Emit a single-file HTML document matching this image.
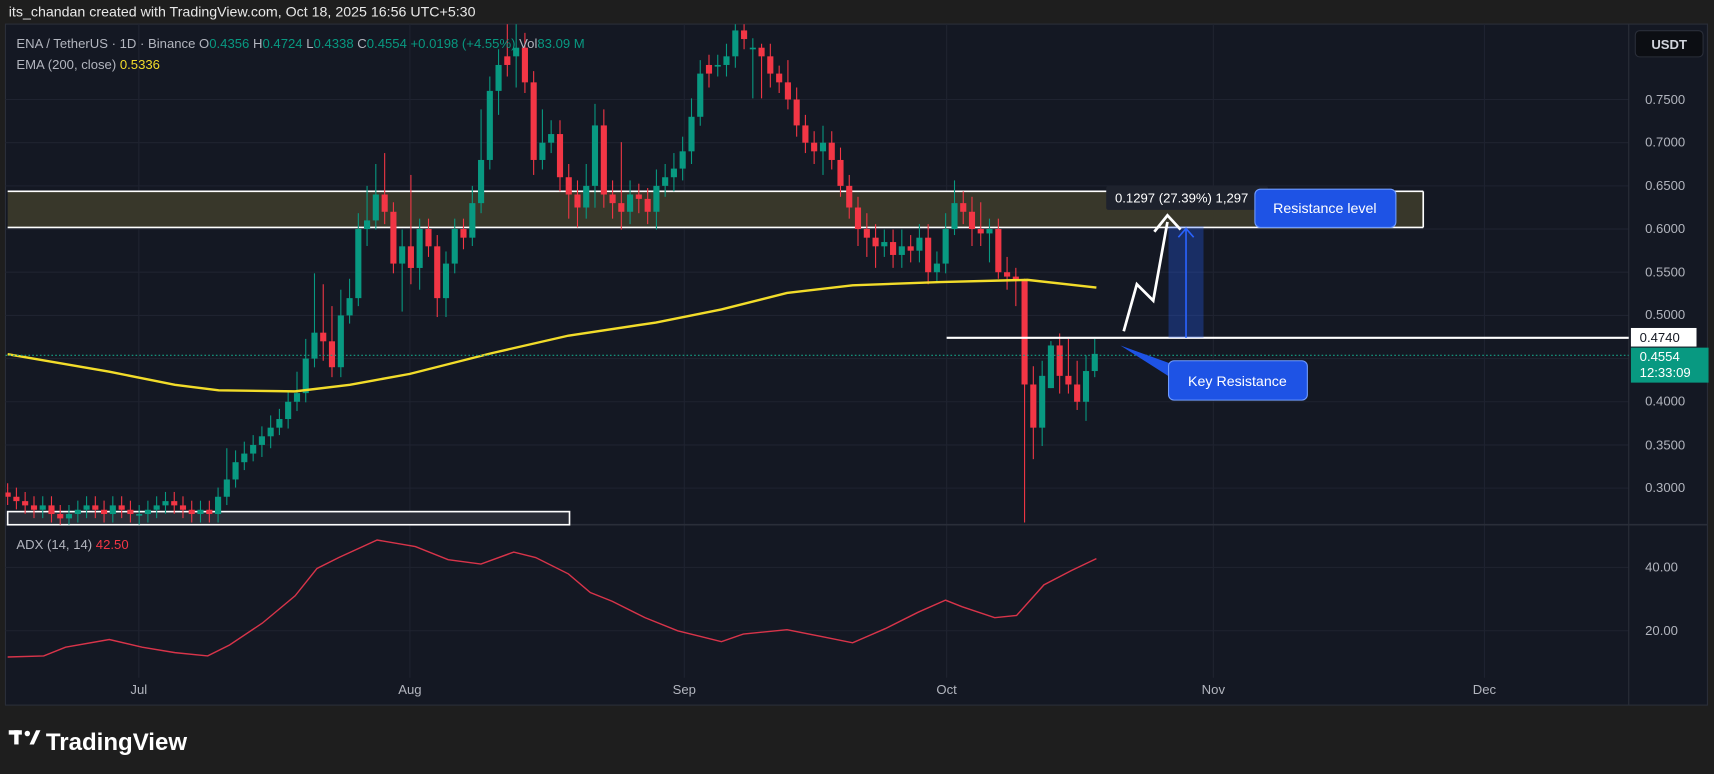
<!DOCTYPE html>
<html><head><meta charset="utf-8"><style>
html,body{margin:0;padding:0;background:#1e1e1e;width:1714px;height:774px;overflow:hidden}
svg{display:block}
text{font-family:"Liberation Sans",sans-serif}
.G line{stroke:#089981;stroke-width:1}.G rect{fill:#089981}
.R line{stroke:#f23645;stroke-width:1}.R rect{fill:#f23645}
</style></head><body>
<svg width="1714" height="774" viewBox="0 0 1568 708" xmlns="http://www.w3.org/2000/svg">
<defs><clipPath id="cp"><rect x="5" y="22" width="1485" height="458"/></clipPath></defs>
<rect width="1568" height="708" fill="#1e1e1e"/>
<text x="8" y="15" fill="#e8e8e8" font-size="13">its_chandan created with TradingView.com, Oct 18, 2025 16:56 UTC+5:30</text>
<rect x="5" y="22" width="1557" height="623" fill="#141823" stroke="#2a2e39"/>
<g stroke="#1f2330" stroke-width="1">
<line x1="5" y1="91" x2="1490" y2="91"/><line x1="5" y1="130.5" x2="1490" y2="130.5"/><line x1="5" y1="170" x2="1490" y2="170"/><line x1="5" y1="209.5" x2="1490" y2="209.5"/><line x1="5" y1="249" x2="1490" y2="249"/><line x1="5" y1="288.5" x2="1490" y2="288.5"/><line x1="5" y1="328" x2="1490" y2="328"/><line x1="5" y1="367.5" x2="1490" y2="367.5"/><line x1="5" y1="407" x2="1490" y2="407"/><line x1="5" y1="446.5" x2="1490" y2="446.5"/>
<line x1="5" y1="519" x2="1490" y2="519"/><line x1="5" y1="577" x2="1490" y2="577"/>
<line x1="127" y1="22" x2="127" y2="620"/><line x1="375" y1="22" x2="375" y2="620"/><line x1="626" y1="22" x2="626" y2="620"/><line x1="866" y1="22" x2="866" y2="620"/><line x1="1110" y1="22" x2="1110" y2="620"/><line x1="1358" y1="22" x2="1358" y2="620"/>
</g>
<line x1="5" y1="480" x2="1562" y2="480" stroke="#2a2e39" stroke-width="1.5"/>
<line x1="1490" y1="22" x2="1490" y2="645" stroke="#2a2e39"/>
<rect x="7" y="175" width="1295" height="33" fill="#38372a"/>
<line x1="7" y1="175" x2="1302" y2="175" stroke="#fff" stroke-width="1.5"/>
<line x1="7" y1="208" x2="1302" y2="208" stroke="#fff" stroke-width="1.5"/>
<line x1="1302" y1="175" x2="1302" y2="208" stroke="#fff" stroke-width="1.5"/>
<rect x="7" y="468" width="514" height="12" fill="#2a2d37" stroke="#fff" stroke-width="1.5"/>
<g clip-path="url(#cp)">
<g class="R"><line x1="7" y1="442" x2="7" y2="462"/><rect x="4.2" y="450.5" width="5.6" height="3.9"/></g>
<g class="R"><line x1="15" y1="446" x2="15" y2="466"/><rect x="12.2" y="454.4" width="5.6" height="4"/></g>
<g class="R"><line x1="23" y1="450" x2="23" y2="470"/><rect x="20.2" y="458.4" width="5.6" height="3.9"/></g>
<g class="R"><line x1="31.1" y1="454" x2="31.1" y2="474"/><rect x="28.3" y="462.3" width="5.6" height="4"/></g>
<g class="G"><line x1="39.1" y1="454" x2="39.1" y2="474"/><rect x="36.3" y="462.3" width="5.6" height="4"/></g>
<g class="R"><line x1="47.1" y1="454" x2="47.1" y2="478"/><rect x="44.3" y="462.3" width="5.6" height="7.9"/></g>
<g class="R"><line x1="55.1" y1="462" x2="55.1" y2="480"/><rect x="52.3" y="470.2" width="5.6" height="4"/></g>
<g class="G"><line x1="63.1" y1="462" x2="63.1" y2="480"/><rect x="60.3" y="470.2" width="5.6" height="4"/></g>
<g class="G"><line x1="71.2" y1="458" x2="71.2" y2="478"/><rect x="68.4" y="466.3" width="5.6" height="3.9"/></g>
<g class="G"><line x1="79.2" y1="454" x2="79.2" y2="474"/><rect x="76.4" y="462.3" width="5.6" height="4"/></g>
<g class="R"><line x1="87.2" y1="454" x2="87.2" y2="474"/><rect x="84.4" y="462.3" width="5.6" height="4"/></g>
<g class="R"><line x1="95.2" y1="458" x2="95.2" y2="478"/><rect x="92.4" y="466.3" width="5.6" height="3.9"/></g>
<g class="G"><line x1="103.2" y1="454" x2="103.2" y2="478"/><rect x="100.4" y="462.3" width="5.6" height="7.9"/></g>
<g class="R"><line x1="111.3" y1="454" x2="111.3" y2="474"/><rect x="108.5" y="462.3" width="5.6" height="4"/></g>
<g class="R"><line x1="119.3" y1="458" x2="119.3" y2="478"/><rect x="116.5" y="466.3" width="5.6" height="3.9"/></g>
<g class="G"><line x1="127.3" y1="462" x2="127.3" y2="480"/><rect x="124.5" y="470.2" width="5.6" height="1.5"/></g>
<g class="G"><line x1="135.3" y1="458" x2="135.3" y2="478"/><rect x="132.5" y="466.3" width="5.6" height="3.9"/></g>
<g class="G"><line x1="143.3" y1="454" x2="143.3" y2="474"/><rect x="140.5" y="462.3" width="5.6" height="4"/></g>
<g class="G"><line x1="151.4" y1="450" x2="151.4" y2="470"/><rect x="148.6" y="458.4" width="5.6" height="3.9"/></g>
<g class="R"><line x1="159.4" y1="450" x2="159.4" y2="470"/><rect x="156.6" y="458.4" width="5.6" height="3.9"/></g>
<g class="R"><line x1="167.4" y1="454" x2="167.4" y2="474"/><rect x="164.6" y="462.3" width="5.6" height="4"/></g>
<g class="R"><line x1="175.4" y1="458" x2="175.4" y2="478"/><rect x="172.6" y="466.3" width="5.6" height="3.9"/></g>
<g class="G"><line x1="183.4" y1="458" x2="183.4" y2="478"/><rect x="180.6" y="466.3" width="5.6" height="3.9"/></g>
<g class="R"><line x1="191.5" y1="458" x2="191.5" y2="478"/><rect x="188.7" y="466.3" width="5.6" height="3.9"/></g>
<g class="G"><line x1="199.5" y1="446" x2="199.5" y2="478"/><rect x="196.7" y="454.4" width="5.6" height="15.8"/></g>
<g class="G"><line x1="207.5" y1="410" x2="207.5" y2="462"/><rect x="204.7" y="438.6" width="5.6" height="15.8"/></g>
<g class="G"><line x1="215.5" y1="412" x2="215.5" y2="446"/><rect x="212.7" y="422.8" width="5.6" height="15.8"/></g>
<g class="G"><line x1="223.5" y1="404" x2="223.5" y2="430"/><rect x="220.7" y="414.9" width="5.6" height="7.9"/></g>
<g class="G"><line x1="231.6" y1="398" x2="231.6" y2="422"/><rect x="228.8" y="407" width="5.6" height="7.9"/></g>
<g class="G"><line x1="239.6" y1="390" x2="239.6" y2="418"/><rect x="236.8" y="399.1" width="5.6" height="7.9"/></g>
<g class="G"><line x1="247.6" y1="380" x2="247.6" y2="410"/><rect x="244.8" y="391.2" width="5.6" height="7.9"/></g>
<g class="G"><line x1="255.6" y1="374" x2="255.6" y2="398"/><rect x="252.8" y="383.3" width="5.6" height="7.9"/></g>
<g class="G"><line x1="263.6" y1="358" x2="263.6" y2="392"/><rect x="260.8" y="367.5" width="5.6" height="15.8"/></g>
<g class="G"><line x1="271.7" y1="340" x2="271.7" y2="376"/><rect x="268.9" y="359.6" width="5.6" height="7.9"/></g>
<g class="G"><line x1="279.7" y1="310" x2="279.7" y2="368"/><rect x="276.9" y="328" width="5.6" height="31.6"/></g>
<g class="G"><line x1="287.7" y1="250" x2="287.7" y2="336"/><rect x="284.9" y="304.3" width="5.6" height="23.7"/></g>
<g class="R"><line x1="295.7" y1="260" x2="295.7" y2="330"/><rect x="292.9" y="304.3" width="5.6" height="7.9"/></g>
<g class="R"><line x1="303.7" y1="280" x2="303.7" y2="345"/><rect x="300.9" y="312.2" width="5.6" height="23.7"/></g>
<g class="G"><line x1="311.8" y1="265" x2="311.8" y2="345"/><rect x="309" y="288.5" width="5.6" height="47.4"/></g>
<g class="G"><line x1="319.8" y1="255" x2="319.8" y2="296"/><rect x="317" y="272.7" width="5.6" height="15.8"/></g>
<g class="G"><line x1="327.8" y1="195" x2="327.8" y2="280"/><rect x="325" y="209.5" width="5.6" height="63.2"/></g>
<g class="G"><line x1="335.8" y1="170" x2="335.8" y2="225"/><rect x="333" y="201.6" width="5.6" height="7.9"/></g>
<g class="G"><line x1="343.8" y1="150" x2="343.8" y2="210"/><rect x="341" y="177.9" width="5.6" height="23.7"/></g>
<g class="R"><line x1="351.9" y1="140" x2="351.9" y2="205"/><rect x="349.1" y="177.9" width="5.6" height="15.8"/></g>
<g class="R"><line x1="359.9" y1="185" x2="359.9" y2="250"/><rect x="357.1" y="193.7" width="5.6" height="47.4"/></g>
<g class="G"><line x1="367.9" y1="210" x2="367.9" y2="285"/><rect x="365.1" y="225.3" width="5.6" height="15.8"/></g>
<g class="R"><line x1="375.9" y1="160" x2="375.9" y2="260"/><rect x="373.1" y="225.3" width="5.6" height="19.8"/></g>
<g class="G"><line x1="383.9" y1="200" x2="383.9" y2="265"/><rect x="381.1" y="209.5" width="5.6" height="35.6"/></g>
<g class="R"><line x1="392" y1="200" x2="392" y2="235"/><rect x="389.2" y="209.5" width="5.6" height="15.8"/></g>
<g class="R"><line x1="400" y1="215" x2="400" y2="290"/><rect x="397.2" y="225.3" width="5.6" height="47.4"/></g>
<g class="G"><line x1="408" y1="230" x2="408" y2="290"/><rect x="405.2" y="241.1" width="5.6" height="31.6"/></g>
<g class="G"><line x1="416" y1="200" x2="416" y2="250"/><rect x="413.2" y="209.5" width="5.6" height="31.6"/></g>
<g class="R"><line x1="424" y1="200" x2="424" y2="228"/><rect x="421.2" y="209.5" width="5.6" height="7.9"/></g>
<g class="G"><line x1="432.1" y1="170" x2="432.1" y2="225"/><rect x="429.3" y="185.8" width="5.6" height="31.6"/></g>
<g class="G"><line x1="440.1" y1="100" x2="440.1" y2="195"/><rect x="437.3" y="146.3" width="5.6" height="39.5"/></g>
<g class="G"><line x1="448.1" y1="70" x2="448.1" y2="155"/><rect x="445.3" y="83.1" width="5.6" height="63.2"/></g>
<g class="G"><line x1="456.1" y1="45" x2="456.1" y2="105"/><rect x="453.3" y="59.4" width="5.6" height="23.7"/></g>
<g class="R"><line x1="464.1" y1="22" x2="464.1" y2="70"/><rect x="461.3" y="51.5" width="5.6" height="7.9"/></g>
<g class="G"><line x1="472.2" y1="22" x2="472.2" y2="80"/><rect x="469.4" y="43.6" width="5.6" height="7.9"/></g>
<g class="R"><line x1="480.2" y1="30" x2="480.2" y2="85"/><rect x="477.4" y="43.6" width="5.6" height="31.7"/></g>
<g class="R"><line x1="488.2" y1="65" x2="488.2" y2="160"/><rect x="485.4" y="75.3" width="5.6" height="71"/></g>
<g class="G"><line x1="496.2" y1="100" x2="496.2" y2="155"/><rect x="493.4" y="130.5" width="5.6" height="15.8"/></g>
<g class="G"><line x1="504.2" y1="110" x2="504.2" y2="140"/><rect x="501.4" y="122.6" width="5.6" height="7.9"/></g>
<g class="R"><line x1="512.3" y1="110" x2="512.3" y2="175"/><rect x="509.5" y="122.6" width="5.6" height="39.5"/></g>
<g class="R"><line x1="520.3" y1="150" x2="520.3" y2="200"/><rect x="517.5" y="162.1" width="5.6" height="15.8"/></g>
<g class="R"><line x1="528.3" y1="165" x2="528.3" y2="208"/><rect x="525.5" y="177.9" width="5.6" height="11.9"/></g>
<g class="G"><line x1="536.3" y1="150" x2="536.3" y2="200"/><rect x="533.5" y="170" width="5.6" height="19.8"/></g>
<g class="G"><line x1="544.3" y1="95" x2="544.3" y2="190"/><rect x="541.5" y="114.7" width="5.6" height="55.3"/></g>
<g class="R"><line x1="552.4" y1="100" x2="552.4" y2="190"/><rect x="549.6" y="114.7" width="5.6" height="63.2"/></g>
<g class="R"><line x1="560.4" y1="165" x2="560.4" y2="200"/><rect x="557.6" y="177.9" width="5.6" height="7.9"/></g>
<g class="R"><line x1="568.4" y1="130" x2="568.4" y2="210"/><rect x="565.6" y="185.8" width="5.6" height="7.9"/></g>
<g class="G"><line x1="576.4" y1="165" x2="576.4" y2="205"/><rect x="573.6" y="177.9" width="5.6" height="15.8"/></g>
<g class="R"><line x1="584.4" y1="168" x2="584.4" y2="195"/><rect x="581.6" y="177.9" width="5.6" height="4"/></g>
<g class="R"><line x1="592.5" y1="172" x2="592.5" y2="205"/><rect x="589.7" y="181.9" width="5.6" height="11.8"/></g>
<g class="G"><line x1="600.5" y1="155" x2="600.5" y2="210"/><rect x="597.7" y="170" width="5.6" height="23.7"/></g>
<g class="G"><line x1="608.5" y1="150" x2="608.5" y2="180"/><rect x="605.7" y="162.1" width="5.6" height="7.9"/></g>
<g class="G"><line x1="616.5" y1="140" x2="616.5" y2="175"/><rect x="613.7" y="154.2" width="5.6" height="7.9"/></g>
<g class="G"><line x1="624.5" y1="125" x2="624.5" y2="165"/><rect x="621.7" y="138.4" width="5.6" height="15.8"/></g>
<g class="G"><line x1="632.6" y1="90" x2="632.6" y2="150"/><rect x="629.8" y="106.8" width="5.6" height="31.6"/></g>
<g class="G"><line x1="640.6" y1="55" x2="640.6" y2="115"/><rect x="637.8" y="67.3" width="5.6" height="39.5"/></g>
<g class="R"><line x1="648.6" y1="50" x2="648.6" y2="80"/><rect x="645.8" y="59.4" width="5.6" height="7.9"/></g>
<g class="G"><line x1="656.6" y1="50" x2="656.6" y2="70"/><rect x="653.8" y="59.4" width="5.6" height="1.5"/></g>
<g class="G"><line x1="664.6" y1="40" x2="664.6" y2="70"/><rect x="661.8" y="51.5" width="5.6" height="7.9"/></g>
<g class="G"><line x1="672.7" y1="22" x2="672.7" y2="62"/><rect x="669.9" y="27.8" width="5.6" height="23.7"/></g>
<g class="R"><line x1="680.7" y1="22" x2="680.7" y2="45"/><rect x="677.9" y="27.8" width="5.6" height="7.9"/></g>
<g class="G"><line x1="688.7" y1="35" x2="688.7" y2="90"/><rect x="685.9" y="43.6" width="5.6" height="1.5"/></g>
<g class="R"><line x1="696.7" y1="40" x2="696.7" y2="90"/><rect x="693.9" y="43.6" width="5.6" height="7.9"/></g>
<g class="R"><line x1="704.7" y1="40" x2="704.7" y2="80"/><rect x="701.9" y="51.5" width="5.6" height="15.8"/></g>
<g class="R"><line x1="712.8" y1="60" x2="712.8" y2="85"/><rect x="710" y="67.3" width="5.6" height="8"/></g>
<g class="R"><line x1="720.8" y1="55" x2="720.8" y2="100"/><rect x="718" y="75.3" width="5.6" height="15.7"/></g>
<g class="R"><line x1="728.8" y1="80" x2="728.8" y2="125"/><rect x="726" y="91" width="5.6" height="23.7"/></g>
<g class="R"><line x1="736.8" y1="105" x2="736.8" y2="140"/><rect x="734" y="114.7" width="5.6" height="15.8"/></g>
<g class="R"><line x1="744.8" y1="120" x2="744.8" y2="150"/><rect x="742" y="130.5" width="5.6" height="7.9"/></g>
<g class="G"><line x1="752.9" y1="115" x2="752.9" y2="160"/><rect x="750.1" y="130.5" width="5.6" height="7.9"/></g>
<g class="R"><line x1="760.9" y1="120" x2="760.9" y2="155"/><rect x="758.1" y="130.5" width="5.6" height="15.8"/></g>
<g class="R"><line x1="768.9" y1="135" x2="768.9" y2="180"/><rect x="766.1" y="146.3" width="5.6" height="23.7"/></g>
<g class="R"><line x1="776.9" y1="160" x2="776.9" y2="200"/><rect x="774.1" y="170" width="5.6" height="19.8"/></g>
<g class="R"><line x1="784.9" y1="180" x2="784.9" y2="225"/><rect x="782.1" y="189.8" width="5.6" height="19.7"/></g>
<g class="R"><line x1="793" y1="195" x2="793" y2="235"/><rect x="790.2" y="209.5" width="5.6" height="7.9"/></g>
<g class="R"><line x1="801" y1="205" x2="801" y2="245"/><rect x="798.2" y="217.4" width="5.6" height="7.9"/></g>
<g class="G"><line x1="809" y1="210" x2="809" y2="235"/><rect x="806.2" y="221.4" width="5.6" height="3.9"/></g>
<g class="R"><line x1="817" y1="210" x2="817" y2="245"/><rect x="814.2" y="221.4" width="5.6" height="11.8"/></g>
<g class="G"><line x1="825" y1="210" x2="825" y2="245"/><rect x="822.2" y="225.3" width="5.6" height="7.9"/></g>
<g class="R"><line x1="833.1" y1="215" x2="833.1" y2="240"/><rect x="830.3" y="225.3" width="5.6" height="4"/></g>
<g class="G"><line x1="841.1" y1="205" x2="841.1" y2="240"/><rect x="838.3" y="217.4" width="5.6" height="11.9"/></g>
<g class="R"><line x1="849.1" y1="205" x2="849.1" y2="260"/><rect x="846.3" y="217.4" width="5.6" height="31.6"/></g>
<g class="G"><line x1="857.1" y1="230" x2="857.1" y2="258"/><rect x="854.3" y="241.1" width="5.6" height="7.9"/></g>
<g class="G"><line x1="865.1" y1="195" x2="865.1" y2="250"/><rect x="862.3" y="209.5" width="5.6" height="31.6"/></g>
<g class="G"><line x1="873.2" y1="165" x2="873.2" y2="215"/><rect x="870.4" y="185.8" width="5.6" height="23.7"/></g>
<g class="R"><line x1="881.2" y1="175" x2="881.2" y2="205"/><rect x="878.4" y="185.8" width="5.6" height="7.9"/></g>
<g class="R"><line x1="889.2" y1="180" x2="889.2" y2="225"/><rect x="886.4" y="193.7" width="5.6" height="15.8"/></g>
<g class="R"><line x1="897.2" y1="185" x2="897.2" y2="225"/><rect x="894.4" y="209.5" width="5.6" height="4"/></g>
<g class="G"><line x1="905.2" y1="200" x2="905.2" y2="240"/><rect x="902.4" y="209.5" width="5.6" height="4"/></g>
<g class="R"><line x1="913.3" y1="200" x2="913.3" y2="255"/><rect x="910.5" y="209.5" width="5.6" height="39.5"/></g>
<g class="R"><line x1="921.3" y1="235" x2="921.3" y2="265"/><rect x="918.5" y="249" width="5.6" height="4"/></g>
<g class="R"><line x1="929.3" y1="245" x2="929.3" y2="280"/><rect x="926.5" y="253" width="5.6" height="3.9"/></g>
<g class="R"><line x1="937.3" y1="255" x2="937.3" y2="478"/><rect x="934.5" y="256.9" width="5.6" height="94.8"/></g>
<g class="R"><line x1="945.3" y1="335" x2="945.3" y2="420"/><rect x="942.5" y="351.7" width="5.6" height="39.5"/></g>
<g class="G"><line x1="953.4" y1="330" x2="953.4" y2="408"/><rect x="950.6" y="343.8" width="5.6" height="47.4"/></g>
<g class="G"><line x1="961.4" y1="312" x2="961.4" y2="355"/><rect x="958.6" y="316" width="5.6" height="39"/></g>
<g class="R"><line x1="969.4" y1="305" x2="969.4" y2="360"/><rect x="966.6" y="316" width="5.6" height="27.8"/></g>
<g class="R"><line x1="977.4" y1="310" x2="977.4" y2="360"/><rect x="974.6" y="343.8" width="5.6" height="7.9"/></g>
<g class="R"><line x1="985.4" y1="330" x2="985.4" y2="375"/><rect x="982.6" y="351.7" width="5.6" height="15.8"/></g>
<g class="G"><line x1="993.5" y1="325" x2="993.5" y2="385"/><rect x="990.7" y="339.4" width="5.6" height="28.1"/></g>
<g class="G"><line x1="1001.5" y1="310" x2="1001.5" y2="345"/><rect x="998.7" y="323.7" width="5.6" height="15.7"/></g>
</g>
<polyline fill="none" stroke="#f2dc2a" stroke-width="2.2" points="7,324 100,340 160,352 200,357 270,358 320,352 375,342 450,323 520,307 600,295 660,283 720,268 780,261 860,258 940,256 1003,263"/>
<line x1="5" y1="325" x2="1490" y2="325" stroke="#16a085" stroke-width="1" stroke-dasharray="1.5,2"/>
<line x1="866" y1="309" x2="1490" y2="309" stroke="#fff" stroke-width="2"/>
<rect x="1069" y="207" width="32" height="102" fill="rgba(41,98,255,0.3)"/>
<line x1="1085" y1="309" x2="1085" y2="210" stroke="#2962ff" stroke-width="1.5"/>
<polyline points="1078,217 1085,209 1092,217" fill="none" stroke="#2962ff" stroke-width="1.5"/>
<polyline points="1028,303 1040,260 1055,275 1068,203" fill="none" stroke="#fff" stroke-width="2.5"/>
<polyline points="1056,212 1068,197 1080,210" fill="none" stroke="#fff" stroke-width="2.5"/>
<rect x="1012" y="170" width="148" height="22" rx="2" fill="#1e222d"/>
<text x="1020" y="185" fill="#fff" font-size="12">0.1297 (27.39%) 1,297</text>
<rect x="1148" y="173" width="129" height="35" rx="5" fill="#1e53e5" stroke="#6f9bff" stroke-width="1"/>
<text x="1212" y="195" fill="#fff" font-size="13" text-anchor="middle">Resistance level</text>
<polygon points="1025,316 1072,333 1072,346" fill="#1e53e5"/>
<rect x="1069" y="330" width="127" height="36" rx="5" fill="#1e53e5" stroke="#6f9bff" stroke-width="1"/>
<text x="1132" y="353" fill="#fff" font-size="13" text-anchor="middle">Key Resistance</text>
<polyline fill="none" stroke="#d8344a" stroke-width="1.3" points="7,601 40,600 60,592 100,585 130,592 160,597 190,600 210,590 240,570 270,545 290,520 310,510 345,494 380,500 410,512 440,516 470,505 490,510 520,525 540,542 560,550 590,565 620,577 660,587 680,580 720,576 750,582 780,588 810,575 840,560 865,549 880,555 910,565 930,563 955,535 980,522 1003,511"/>
<g font-size="12" fill="#b2b5be">
<text x="15" y="44">ENA / TetherUS · 1D · Binance <tspan>O</tspan><tspan fill="#089981">0.4356</tspan> H<tspan fill="#089981">0.4724</tspan> L<tspan fill="#089981">0.4338</tspan> C<tspan fill="#089981">0.4554</tspan> <tspan fill="#089981">+0.0198 (+4.55%)</tspan> Vol<tspan fill="#089981">83.09 M</tspan></text>
<text x="15" y="63">EMA (200, close) <tspan fill="#f2dc2a">0.5336</tspan></text>
<text x="15" y="502">ADX (14, 14) <tspan fill="#f23645">42.50</tspan></text>
</g>
<rect x="1496" y="28" width="62" height="24" rx="4" fill="#0c0e13" stroke="#2a2e39"/>
<text x="1527" y="45" fill="#d1d4dc" font-size="12" text-anchor="middle" font-weight="bold">USDT</text>
<g font-size="12" fill="#b2b5be">
<text x="1505" y="95">0.7500</text><text x="1505" y="134">0.7000</text><text x="1505" y="174">0.6500</text><text x="1505" y="213">0.6000</text><text x="1505" y="253">0.5500</text><text x="1505" y="292">0.5000</text><text x="1505" y="371">0.4000</text><text x="1505" y="411">0.3500</text><text x="1505" y="450">0.3000</text>
<text x="1505" y="523">40.00</text><text x="1505" y="581">20.00</text>
<text x="127" y="635" text-anchor="middle">Jul</text><text x="375" y="635" text-anchor="middle">Aug</text><text x="626" y="635" text-anchor="middle">Sep</text><text x="866" y="635" text-anchor="middle">Oct</text><text x="1110" y="635" text-anchor="middle">Nov</text><text x="1358" y="635" text-anchor="middle">Dec</text>
</g>
<rect x="1492" y="300" width="60" height="17" fill="#fff"/>
<text x="1500" y="313" fill="#131722" font-size="12">0.4740</text>
<rect x="1492" y="318" width="71" height="32" fill="#089981"/>
<text x="1500" y="330" fill="#fff" font-size="12">0.4554</text>
<text x="1500" y="345" fill="#fff" font-size="12">12:33:09</text>
<g fill="#fff">
<rect x="8" y="668" width="12" height="4"/><rect x="13" y="668" width="4" height="13"/>
<circle cx="25" cy="671" r="2.5"/><polygon points="27,681 33,668 37,668 31,681"/>
<text x="42" y="686" font-size="22" font-weight="bold">TradingView</text>
</g>
</svg>
</body></html>
